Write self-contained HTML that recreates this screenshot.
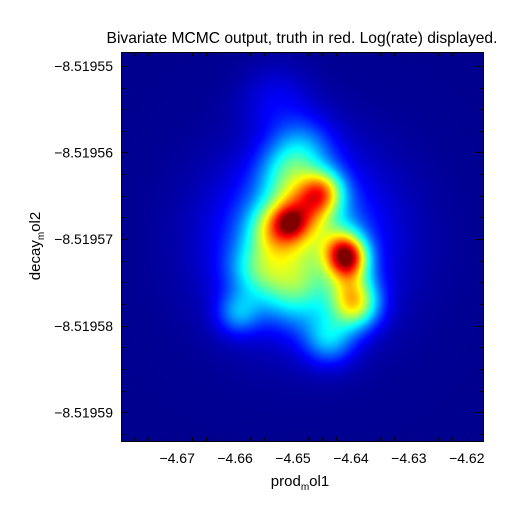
<!DOCTYPE html>
<html><head><meta charset="utf-8"><style>
body{margin:0;background:#fff;width:512px;height:512px;overflow:hidden;font-family:"Liberation Sans",sans-serif}
svg text{font-family:"Liberation Sans",sans-serif;fill:#000}
</style></head><body>
<svg id="chart" width="512" height="512">
<text x="302" y="43" font-size="15.6" text-anchor="middle">Bivariate MCMC output, truth in red. Log(rate) displayed.</text>
<foreignObject x="121" y="52" width="362" height="389"><canvas id="cv" width="362" height="389" style="display:block" xmlns="http://www.w3.org/1999/xhtml"></canvas></foreignObject>
<rect x="121.5" y="52.5" width="362" height="389" fill="none" stroke="#000" stroke-width="1"/>
<g id="ticks"></g>
<text x="300" y="486" font-size="15" text-anchor="middle">prod<tspan font-size="10" dy="4">m</tspan><tspan dy="-4">ol1</tspan></text>
<text transform="translate(40,246) rotate(-90)" font-size="15" text-anchor="middle">decay<tspan font-size="10" dy="4">m</tspan><tspan dy="-4">ol2</tspan></text>
</svg>
<script>
const xTicks=[-4.67,-4.66,-4.65,-4.64,-4.63,-4.62];
const xTickLabels=["\u22124.67","\u22124.66","\u22124.65","\u22124.64","\u22124.63","\u22124.62"];
const yTicks=[-8.51955,-8.51956,-8.51957,-8.51958,-8.51959];
const yTickLabels=["\u22128.51955","\u22128.51956","\u22128.51957","\u22128.51958","\u22128.51959"];
const blobX=[-4.64856,-4.64943,-4.65290,-4.64856,-4.64508,-4.65064,-4.64073,-4.64160,-4.63934,-4.64977,-4.64856,-4.65117,-4.65951,-4.65638,-4.64386,-4.65290,-4.64020];
const blobY=[-8.5195701,-8.5195695,-8.5195687,-8.5195668,-8.5195645,-8.5195681,-8.5195721,-8.5195706,-8.5195776,-8.5195758,-8.5195597,-8.5195626,-8.5195785,-8.5195735,-8.5195814,-8.5195539,-8.5195750];
const blobAmp=[0.2,0.25,0.3,0.3,0.45,0.2,0.6,0.2,0.45,0.25,0.2,0.2,0.2,0.2,0.25,0.08,0.22];
const blobSpread=[0.011,0.0061,0.0031,0.0031,0.0026,0.0017,0.0024,0.0026,0.0029,0.0043,0.0038,0.0035,0.0026,0.0035,0.0031,0.0043,0.0028];

const L=121,T=52,W=362,H=389;
const x0=-4.6797,x1=-4.6172,y0=-8.5195484,y1=-8.5195933;
const sx=v=>L+(v-x0)/(x1-x0)*W;
const sy=v=>T+(v-y0)/(y1-y0)*H;
const pxPerX=W/(x1-x0);

const cv=document.getElementById('cv');


const ctx=cv.getContext('2d');
const img=ctx.createImageData(W,H);
const cl=v=>Math.max(0,Math.min(1,v));
const bp=blobX.map((x,i)=>[sx(x)-L,sy(blobY[i])-T,blobAmp[i],blobSpread[i]*pxPerX]);
for(let j=0;j<H;j++)for(let i=0;i<W;i++){
  let v=0.015;
  for(const [bx,by,a,s] of bp){const dx=i-bx,dy=j-by;v+=a*Math.exp(-(dx*dx+dy*dy)/(2*s*s));}
  v=cl(v);
  const k=(j*W+i)*4;
  img.data[k]=255*cl(1.5-Math.abs(4*v-3));
  img.data[k+1]=255*cl(1.5-Math.abs(4*v-2));
  img.data[k+2]=255*cl(1.5-Math.abs(4*v-1));
  img.data[k+3]=255;
}
ctx.putImageData(img,0,0);

const g=document.getElementById('ticks');
const NS='http://www.w3.org/2000/svg';
function line(x1_,y1_,x2_,y2_,name){
  const l=document.createElementNS(NS,'line');
  l.setAttribute('x1',x1_);l.setAttribute('y1',y1_);l.setAttribute('x2',x2_);l.setAttribute('y2',y2_);
  l.setAttribute('stroke','#000');
  
  
  g.appendChild(l);
}
function text(x,y,s,anchor,name){
  const t=document.createElementNS(NS,'text');
  t.setAttribute('x',x);t.setAttribute('y',y);t.setAttribute('font-size','14');t.setAttribute('text-anchor',anchor);
  t.textContent=s;
  
  
  g.appendChild(t);
}
const dxm=(xTicks[1]-xTicks[0])/4, dym=(yTicks[1]-yTicks[0])/4;
for(let k=-8;k<30;k++){const v=xTicks[0]+k*dxm;const p=sx(v);if(p<=L+1||p>=L+W-1)continue;
  const len=(k%4===0)?7:4;const X=Math.round(p)+0.5;
  line(X,T+H,X,T+H-len,'x-tick');line(X,T,X,T+len,'x-tick-top');}
for(let k=-8;k<30;k++){const v=yTicks[0]+k*dym;const p=sy(v);if(p<=T+1||p>=T+H-1)continue;
  const len=(k%4===0)?7:4;const Y=Math.round(p)+0.5;
  line(L,Y,L+len,Y,'y-tick');line(L+W,Y,L+W-len,Y,'y-tick-right');}
xTicks.forEach((v,i)=>text(sx(v),T+H+22,xTickLabels[i],'middle','x-tick-label'));
yTicks.forEach((v,i)=>text(L-8,sy(v)+5,yTickLabels[i],'end','y-tick-label'));
</script>
</body></html>
